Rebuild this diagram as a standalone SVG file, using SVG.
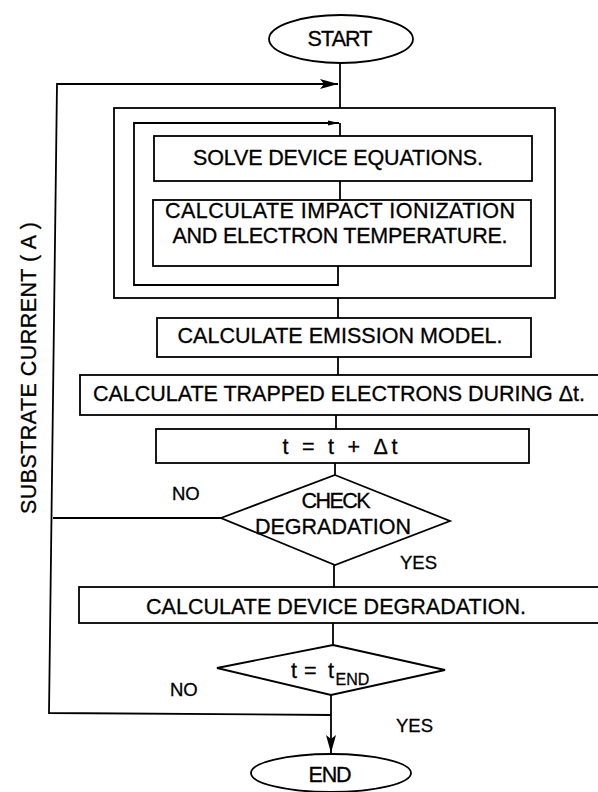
<svg xmlns="http://www.w3.org/2000/svg" width="598" height="792" viewBox="0 0 598 792">
<style>
.box{fill:none;stroke:#000;stroke-width:1.8}
.ln{fill:none;stroke:#000;stroke-width:1.8}
.t{font-family:"Liberation Sans",Arial,sans-serif;font-size:21.5px;fill:#000;stroke:#000;stroke-width:0.3;text-anchor:middle}
.lb{font-family:"Liberation Sans",Arial,sans-serif;font-size:18.5px;fill:#000;stroke:#000;stroke-width:0.3;text-anchor:start}
</style>
<defs>
<marker id="big" markerWidth="20" markerHeight="12" refX="18" refY="6" orient="auto" markerUnits="userSpaceOnUse">
<path d="M0,1 L18,6 L0,11 L4,6 Z" fill="#000"/>
</marker>
<marker id="small" markerWidth="12" markerHeight="8" refX="11" refY="4" orient="auto" markerUnits="userSpaceOnUse">
<path d="M0,1.5 L11,4 L0,6.5 Z" fill="#000"/>
</marker>
</defs>
<rect width="598" height="792" fill="#fff"/>

<g id="connectors">
<path class="ln" d="M340,63 V108"/>
<path class="ln" d="M331,715 L49,713 L57,84 L338,84" marker-end="url(#big)"/>
<path class="ln" d="M338,266 V285 H134 V123 H339" marker-end="url(#small)"/>
<path class="ln" d="M340,123 V136"/>
<path class="ln" d="M340,181 V200"/>
<path class="ln" d="M338,298 V318"/>
<path class="ln" d="M338,357 V375"/>
<path class="ln" d="M336,415 V429"/>
<path class="ln" d="M335,463 V475"/>
<path class="ln" d="M221,518 H53"/>
<path class="ln" d="M334,565 V587"/>
<path class="ln" d="M333,623 V645"/>
<path class="ln" d="M331,695 V753" marker-end="url(#big)"/>
</g>

<g id="start">
<ellipse class="box" cx="341" cy="39" rx="72" ry="24"/>
<text class="t" x="340" y="46" textLength="65" lengthAdjust="spacing">START</text>
</g>

<g id="outer-loop">
<rect class="box" x="114" y="108" width="441" height="190"/>
</g>

<g id="solve">
<rect class="box" x="154" y="136" width="378" height="45"/>
<text class="t" x="338" y="165" textLength="290" lengthAdjust="spacing">SOLVE DEVICE EQUATIONS.</text>
</g>

<g id="impact">
<rect class="box" x="153" y="200" width="378" height="66"/>
<text class="t" x="340" y="218" textLength="350" lengthAdjust="spacing">CALCULATE IMPACT IONIZATION</text>
<text class="t" x="340" y="243" textLength="335" lengthAdjust="spacing">AND ELECTRON TEMPERATURE.</text>
</g>

<g id="emission">
<rect class="box" x="157" y="318" width="374" height="39"/>
<text class="t" x="340" y="343" textLength="325" lengthAdjust="spacing">CALCULATE EMISSION MODEL.</text>
</g>

<g id="trapped">
<rect class="box" x="80" y="375" width="530" height="40"/>
<text class="t" x="339" y="401" textLength="492" lengthAdjust="spacing">CALCULATE TRAPPED ELECTRONS DURING Δt.</text>
</g>

<g id="increment">
<rect class="box" x="156" y="429" width="373" height="34"/>
<text class="t" x="340" y="454" textLength="115" lengthAdjust="spacing">t = t + Δt</text>
</g>

<g id="check">
<polygon class="box" points="335,475 450,521 335,565 221,518"/>
<text class="t" x="336" y="508" textLength="69" lengthAdjust="spacing">CHECK</text>
<text class="t" x="333" y="534" textLength="156" lengthAdjust="spacing">DEGRADATION</text>
<text class="lb" x="172" y="500">NO</text>
<text class="lb" x="400" y="569">YES</text>
</g>

<g id="degradation">
<rect class="box" x="79" y="587" width="531" height="36"/>
<text class="t" x="336" y="614" textLength="380" lengthAdjust="spacing">CALCULATE DEVICE DEGRADATION.</text>
</g>

<g id="end-check">
<polygon class="box" points="333,645 445,670 331,695 217,668"/>
<text class="t" x="291" y="678" style="text-anchor:start"><tspan x="291">t</tspan><tspan x="304">=</tspan><tspan x="328">t</tspan><tspan x="335.5" dy="7" font-size="16">END</tspan></text>
<text class="lb" x="170" y="696">NO</text>
<text class="lb" x="396" y="732">YES</text>
</g>

<g id="end">
<ellipse class="box" cx="331" cy="773" rx="80" ry="19"/>
<text class="t" x="330" y="782" textLength="43" lengthAdjust="spacing">END</text>
</g>

<g id="axis-label">
<text class="t" transform="translate(36,368) rotate(-90)" x="0" y="0" textLength="292" lengthAdjust="spacing">SUBSTRATE CURRENT ( A )</text>
</g>
</svg>
